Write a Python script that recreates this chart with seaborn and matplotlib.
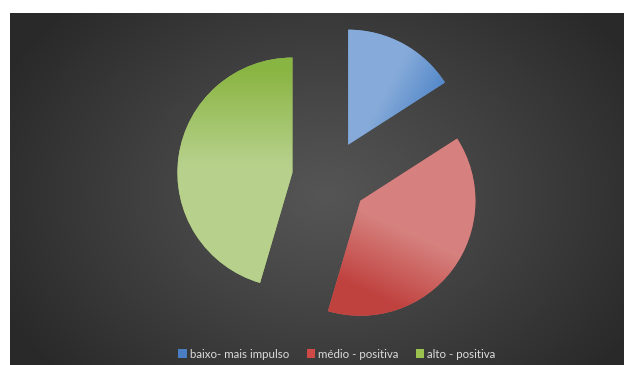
import numpy as np
import matplotlib
matplotlib.use('Agg')
import matplotlib.pyplot as plt
import seaborn as sns
from matplotlib.colors import to_rgb
from matplotlib.patches import Patch

categories = ['baixo- mais impulso', 'médio - positiva', 'alto - positiva']
values = [7, 17, 20]
base_colors = ['#6a96cc', '#cc6a67', '#a5c66e']
legend_colors = ['#4a7ec2', '#cf4a47', '#9bc24f']

sns.set_theme(style='white')
plt.rcParams['font.family'] = ['Lato', 'DejaVu Sans']

W, H = 626, 365
fig = plt.figure(figsize=(W / 100, H / 100), dpi=100, facecolor='white')
ax = fig.add_axes([0, 0, 1, 1])

S = 115.0
CX, CY = 330.0, 178.0


def px(x, y):
    return ((x - CX) / S, (CY - y) / S)


# background radial gradient
bx0, by0, bx1, by1 = 10, 13, 624, 365
gx, gy = np.meshgrid(np.arange(bx0, bx1) + 0.5, np.arange(by0, by1) + 0.5)
d = np.sqrt(((gx - 325) / 360.0) ** 2 + ((gy - 195) / 270.0) ** 2)
d = np.clip(d, 0, 1)
cc = np.array(to_rgb('#555555'))
ce = np.array(to_rgb('#292929'))
bg = cc[None, None, :] + (ce - cc)[None, None, :] * (d[..., None] ** 1.1)
l, t = px(bx0, by0)
r, b = px(bx1, by1)
ax.imshow(bg, extent=(l, r, b, t), origin='upper', zorder=0, interpolation='bilinear')

explode = [0.33, 0.33, 0.33]
wedges, _ = ax.pie(values, explode=explode, colors=base_colors, startangle=90,
                   counterclock=False, radius=1.0,
                   wedgeprops=dict(edgecolor='none', linewidth=0))
for w in wedges:
    w.set_zorder(2)

# gradients per wedge (pixel coords): p0 color0 -> p1 color1
grads = [
    ((395, 75), '#86abd9', (442, 100), '#4e84c8'),
    ((415, 235), '#d6827f', (385, 300), '#c0423f'),
    ((250, 70), '#8ab543', (250, 165), '#b7d18c'),
]
fx, fy = np.meshgrid(np.arange(0, W) + 0.5, np.arange(0, H) + 0.5)
L0, T0 = px(0, 0)
R0, B0 = px(W, H)
for w, (p0, c0, p1, c1) in zip(wedges, grads):
    v = np.array(p1, float) - np.array(p0, float)
    tt = ((fx - p0[0]) * v[0] + (fy - p0[1]) * v[1]) / (v @ v)
    tt = np.clip(tt, 0, 1)[..., None]
    a0 = np.array(to_rgb(c0)); a1 = np.array(to_rgb(c1))
    img = a0 + (a1 - a0) * tt
    im = ax.imshow(img, extent=(L0, R0, B0, T0), origin='upper', zorder=3,
                   interpolation='bilinear')
    im.set_clip_path(w)

ax.set_xlim(L0, R0)
ax.set_ylim(B0, T0)
ax.set_aspect('auto')
ax.axis('off')

handles = [Patch(facecolor=c, edgecolor='none') for c in legend_colors]
fig.legend(handles, categories, loc='center', bbox_to_anchor=(337 / W, 1 - 354 / H),
           ncol=3, frameon=False, fontsize=8.3, handlelength=0.75, handleheight=0.75,
           handletextpad=0.25, columnspacing=1.5, labelcolor='#dcdcdc')

fig.savefig('out.png', dpi=100, facecolor='white')
